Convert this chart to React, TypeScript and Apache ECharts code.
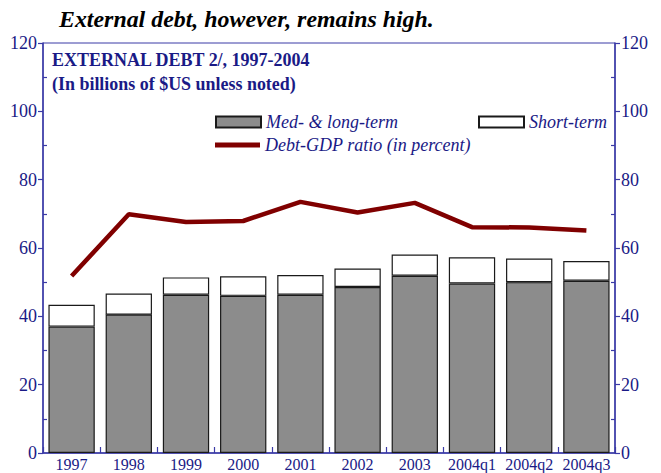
import React, { useEffect, useRef } from "react";
import * as echarts from "echarts";

const categories = ["1997", "1998", "1999", "2000", "2001", "2002", "2003", "2004q1", "2004q2", "2004q3"];
const medLongTerm = [37.0, 40.5, 46.3, 46.0, 46.3, 48.6, 51.9, 49.6, 50.0, 50.4];
const shortTerm = [6.4, 6.2, 5.1, 5.7, 5.8, 5.4, 6.2, 7.7, 6.9, 5.8];
const debtGdpRatio = [51.8, 69.9, 67.6, 67.9, 73.5, 70.4, 73.2, 66.1, 66.0, 65.1];
const yTicks = { min: 0, max: 120, interval: 20 };

const SERIF = '"Liberation Serif", "Times New Roman", serif';
const NAVY = "#1a1a86";
const AXIS = "#3a3aa6";

function fitScale(text: string, font: string, target: number): number {
  const c = document.createElement("canvas").getContext("2d");
  if (!c) return 1;
  c.font = font;
  const w = c.measureText(text).width;
  return w > 0 ? target / w : 1;
}

export default function App() {
  const ref = useRef<HTMLDivElement>(null);
  useEffect(() => {
    if (!ref.current) return;
    const chart = echarts.init(ref.current, undefined, { renderer: "svg" });
    const titleFont = `italic bold 24px ${SERIF}`;
    const t1Font = `bold 19px ${SERIF}`;
    const t2Font = `bold 19px ${SERIF}`;
    const title = "External debt, however, remains high.";
    const t1 = "EXTERNAL DEBT 2/, 1997-2004";
    const t2 = "(In billions of $US unless noted)";

    const yAxisBase = (position: "left" | "right") => ({
      type: "value",
      position,
      min: yTicks.min,
      max: yTicks.max,
      interval: yTicks.interval,
      axisLine: { show: true, lineStyle: { color: AXIS, width: 1.5 } },
      axisTick: { show: true, length: 5, lineStyle: { color: AXIS, width: 1.2 } },
      minorTick: { show: true, splitNumber: 2, length: -4, lineStyle: { color: AXIS, width: 1.2 } },
      splitLine: { show: false },
      axisLabel: { color: NAVY, fontFamily: SERIF, fontSize: 18, margin: 6 },
    });

    const legendBase = {
      orient: "horizontal",
      padding: 0,
      itemWidth: 45,
      itemHeight: 11,
      textStyle: { color: NAVY, fontFamily: SERIF, fontSize: 18, fontStyle: "italic" },
      selectedMode: false,
    };

    chart.setOption({
      animation: false,
      backgroundColor: "#ffffff",
      grid: {
        left: 43,
        right: 46,
        top: 43,
        bottom: 20,
        show: true,
        borderColor: AXIS,
        borderWidth: 1,
        backgroundColor: "transparent",
      },
      legend: [
        { ...legendBase, data: [{ name: "Med- & long-term", icon: "rect" }], left: 215, top: 113 },
        { ...legendBase, data: [{ name: "Short-term", icon: "rect" }], left: 478, top: 113 },
        {
          ...legendBase,
          itemHeight: 5,
          data: [{ name: "Debt-GDP ratio (in percent)", icon: "rect" }],
          left: 215,
          top: 136,
        },
      ],
      xAxis: {
        type: "category",
        data: categories,
        axisLine: { show: true, lineStyle: { color: AXIS, width: 1.5 } },
        axisTick: { show: true, inside: true, length: 6, lineStyle: { color: AXIS, width: 1.2 } },
        axisLabel: { color: NAVY, fontFamily: SERIF, fontSize: 16, margin: 3, interval: 0 },
      },
      yAxis: [yAxisBase("left"), yAxisBase("right")],
      series: [
        {
          name: "Med- & long-term",
          type: "bar",
          stack: "debt",
          data: medLongTerm,
          barCategoryGap: "19%",
          itemStyle: { color: "#8c8c8c", borderColor: "#1a1a1a", borderWidth: 1.2 },
        },
        {
          name: "Short-term",
          type: "bar",
          stack: "debt",
          data: shortTerm,
          itemStyle: { color: "#ffffff", borderColor: "#1a1a1a", borderWidth: 1.2 },
        },
        {
          name: "Debt-GDP ratio (in percent)",
          type: "line",
          data: debtGdpRatio,
          symbol: "none",
          z: 5,
          lineStyle: { color: "#800000", width: 4.5 },
          itemStyle: { color: "#800000" },
        },
      ],
      graphic: [
        {
          type: "text",
          x: 59,
          y: 19,
          scaleX: fitScale(title, titleFont, 375),
          style: { text: title, font: titleFont, fill: "#000000", verticalAlign: "middle" },
        },
        {
          type: "text",
          x: 52,
          y: 60,
          scaleX: fitScale(t1, t1Font, 259),
          style: { text: t1, font: t1Font, fill: NAVY, verticalAlign: "middle" },
        },
        {
          type: "text",
          x: 52,
          y: 84,
          scaleX: fitScale(t2, t2Font, 244),
          style: { text: t2, font: t2Font, fill: NAVY, verticalAlign: "middle" },
        },
      ],
    });
    return () => chart.dispose();
  }, []);
  return <div ref={ref} style={{ position: "absolute", left: 0, top: 0, width: 661, height: 473 }} />;
}
